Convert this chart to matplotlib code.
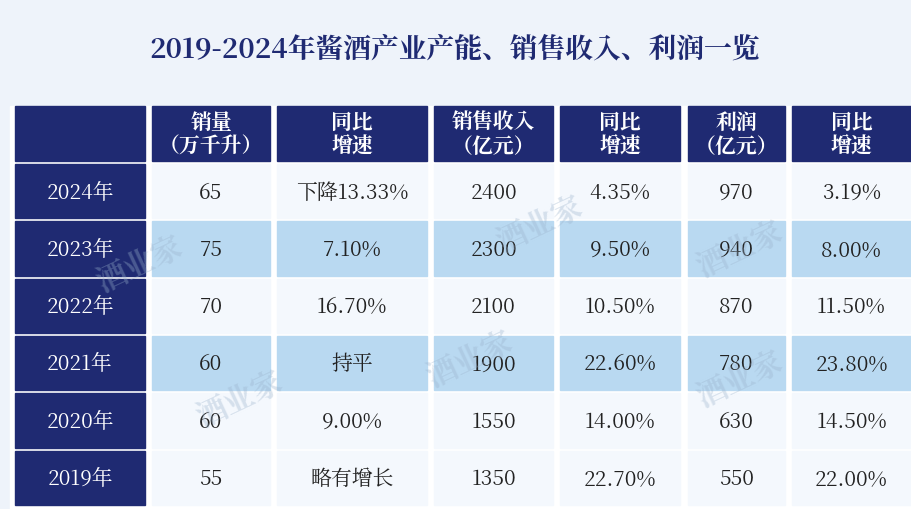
import matplotlib
matplotlib.use("Agg")
import matplotlib.pyplot as plt
from matplotlib.patches import Rectangle
from matplotlib import font_manager as fm

cjk = []
for f in fm.findSystemFonts():
    if "CJK" in f or "cjk" in f.lower():
        try:
            fm.fontManager.addfont(f)
            cjk.append(fm.FontProperties(fname=f).get_name())
        except Exception:
            pass
fams = [n for n in cjk if "SC" in n] + cjk + ["Noto Sans CJK SC", "DejaVu Sans"]
plt.rcParams["font.family"] = "sans-serif"
plt.rcParams["font.sans-serif"] = fams

title = "2019-2024年酱酒产业产能、销售收入、利润一览"
headers = ["", "销量\n（万千升）", "同比\n增速", "销售收入\n（亿元）", "同比\n增速", "利润\n（亿元）", "同比\n增速"]
years = ["2024年", "2023年", "2022年", "2021年", "2020年", "2019年"]
volume = ["65", "75", "70", "60", "60", "55"]
volume_growth = ["下降13.33%", "7.10%", "16.70%", "持平", "9.00%", "略有增长"]
revenue = ["2400", "2300", "2100", "1900", "1550", "1350"]
revenue_growth = ["4.35%", "9.50%", "10.50%", "22.60%", "14.00%", "22.70%"]
profit = ["970", "940", "870", "780", "630", "550"]
profit_growth = ["3.19%", "8.00%", "11.50%", "23.80%", "14.50%", "22.00%"]

navy = "#1f2a72"
fig = plt.figure(figsize=(9.11, 5.10), dpi=100)
ax = fig.add_axes([0, 0, 1, 1])
ax.set_xlim(0, 911); ax.set_ylim(510, 0); ax.axis("off")
ax.add_patch(Rectangle((0, 0), 911, 510, color="#eef3fa", zorder=0))
ax.text(455, 50, title, ha="center", va="center", fontsize=20, fontweight="bold", color=navy)

cols = [(15, 145), (152, 270), (277, 427), (434, 553), (560, 680), (688, 785), (792, 911)]
top, hh, rh = 107, 58, 57.3
ax.add_patch(Rectangle((10, top), 901, 510 - top, color="white", zorder=1))
for (x0, x1), h in zip(cols, headers):
    ax.add_patch(Rectangle((x0, top), x1 - x0, hh - 3, color=navy, zorder=2))
    ax.text((x0 + x1) / 2, top + hh / 2 - 1, h, ha="center", va="center", color="white",
            fontsize=15, fontweight="bold", linespacing=1.0, zorder=3)
shades = ["#f4f8fd", "#b9d9f1", "#f4f8fd", "#b9d9f1", "#f4f8fd", "#f4f8fd"]
for i, y in enumerate(years):
    y0 = top + hh + i * rh
    vals = [y, volume[i], volume_growth[i], revenue[i], revenue_growth[i], profit[i], profit_growth[i]]
    for j, ((x0, x1), v) in enumerate(zip(cols, vals)):
        c = navy if j == 0 else shades[i]
        ax.add_patch(Rectangle((x0, y0), x1 - x0, rh - 3, color=c, zorder=2))
        ax.text((x0 + x1) / 2, y0 + rh / 2 - 1, v, ha="center", va="center",
                color="white" if j == 0 else "#222222", fontsize=15, zorder=3)
for (x, y) in [(140, 265), (240, 400), (540, 225), (740, 250), (470, 360), (740, 380)]:
    ax.text(x, y, "酒业家", fontsize=22, color="#9bb3cc", alpha=0.35, rotation=25,
            ha="center", va="center", fontweight="bold", zorder=4)
fig.savefig("out.png", dpi=100)
